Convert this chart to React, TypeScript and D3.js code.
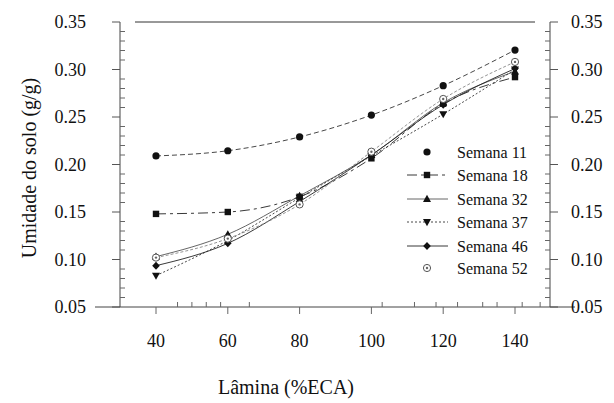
import React from "react";
import * as d3 from "d3";

const laminas = [40, 60, 80, 100, 120, 140];
const xTicks = [40, 60, 80, 100, 120, 140];
const yTicks = [0.05, 0.1, 0.15, 0.2, 0.25, 0.3, 0.35];

const semana11 = [0.209, 0.2145, 0.229, 0.252, 0.283, 0.3205];
const semana18 = [0.148, 0.15, 0.166, 0.2065, 0.264, 0.292];
const semana32 = [0.103, 0.1265, 0.167, 0.21, 0.265, 0.298];
const semana37 = [0.083, 0.12, 0.165, 0.209, 0.253, 0.3];
const semana46 = [0.0935, 0.117, 0.161, 0.21, 0.263, 0.301];
const semana52 = [0.102, 0.122, 0.158, 0.2135, 0.269, 0.308];

const seriesNames = ["Semana 11", "Semana 18", "Semana 32", "Semana 37", "Semana 46", "Semana 52"];
const seriesValues = [semana11, semana18, semana32, semana37, semana46, semana52];

const styles = [
  { stroke: "#333", dash: "5,3", marker: "circle", legendLine: false },
  { stroke: "#222", dash: "10,4,3,4", marker: "square", legendLine: true },
  { stroke: "#555", dash: "", marker: "triUp", legendLine: true },
  { stroke: "#333", dash: "2,2", marker: "triDown", legendLine: true },
  { stroke: "#222", dash: "", marker: "diamond", legendLine: true },
  { stroke: "#888", dash: "3,2", marker: "ring", legendLine: false },
];

const FONT = "'Liberation Serif', 'DejaVu Serif', 'Times New Roman', Times, serif";

function Marker({ type, cx, cy }: { type: string; cx: number; cy: number }) {
  switch (type) {
    case "circle":
      return <circle cx={cx} cy={cy} r={3.6} fill="#111" />;
    case "square":
      return <rect x={cx - 3.2} y={cy - 3.2} width={6.4} height={6.4} fill="#111" />;
    case "triUp":
      return <path d={`M${cx},${cy - 4.2}L${cx + 4},${cy + 3}L${cx - 4},${cy + 3}Z`} fill="#111" />;
    case "triDown":
      return <path d={`M${cx},${cy + 4.2}L${cx + 4},${cy - 3}L${cx - 4},${cy - 3}Z`} fill="#111" />;
    case "diamond":
      return <path d={`M${cx},${cy - 4}L${cx + 3.8},${cy}L${cx},${cy + 4}L${cx - 3.8},${cy}Z`} fill="#111" />;
    case "ring":
      return (
        <g>
          <circle cx={cx} cy={cy} r={3.6} fill="white" stroke="#555" strokeWidth={1} />
          <circle cx={cx} cy={cy} r={1.2} fill="#666" />
        </g>
      );
    default:
      return null;
  }
}

export default function App() {
  const W = 614, H = 403;
  const x = d3.scaleLinear().domain([40, 140]).range([156, 515]);
  const y = d3.scaleLinear().domain([0.05, 0.35]).range([307, 22]);
  const left = 120, right = 550, top = 22, bottom = 307;

  const line = d3
    .line<number>()
    .x((_, i) => x(laminas[i]))
    .y((v) => y(v))
    .curve(d3.curveMonotoneX);

  const minorY = d3.range(0.05, 0.3501, 0.01).filter((v) => Math.abs(Math.round(v * 20) - v * 20) > 0.01);
  const minorX = [46, 50, 54, 58, 66, 103, 112, 118, 124, 131, 135, 142, 147];

  const legendX = 427, legendTextX = 457;
  const legendY = [152, 175, 199, 222, 246, 268];
  const txt = { fontFamily: FONT };

  return (
    <svg width={W} height={H} style={{ position: "absolute", left: 0, top: 0, background: "white", fontFamily: FONT }}>
      <rect width={W} height={H} fill="white" />
      {/* frame */}
      <line x1={135} x2={535} y1={top} y2={top} stroke="#333" strokeWidth={1} />
      <line x1={left} x2={left} y1={top} y2={bottom} stroke="#444" strokeWidth={1} />
      <line x1={right} x2={right} y1={top} y2={bottom} stroke="#444" strokeWidth={1} />
      <line x1={95} x2={575} y1={bottom} y2={bottom} stroke="#444" strokeWidth={1} />

      {/* y ticks */}
      {yTicks.map((t) => (
        <g key={"y" + t}>
          <line x1={left - 8} x2={left} y1={y(t)} y2={y(t)} stroke="#555" strokeWidth={1} />
          <line x1={right} x2={right + 8} y1={y(t)} y2={y(t)} stroke="#555" strokeWidth={1} />
          <text style={txt} x={86} y={y(t)} dy="0.35em" textAnchor="end" fontSize={18} fill="#111">
            {t.toFixed(2)}
          </text>
          <text style={txt} x={571} y={y(t)} dy="0.35em" textAnchor="start" fontSize={18} fill="#111">
            {t.toFixed(2)}
          </text>
        </g>
      ))}
      {minorY.map((t) => (
        <g key={"my" + t}>
          <line x1={left} x2={left + 5} y1={y(t)} y2={y(t)} stroke="#666" strokeWidth={1} />
          <line x1={right - 5} x2={right} y1={y(t)} y2={y(t)} stroke="#666" strokeWidth={1} />
        </g>
      ))}

      {/* x ticks */}
      {xTicks.map((t) => (
        <g key={"x" + t}>
          <line x1={x(t)} x2={x(t)} y1={bottom} y2={bottom + 7} stroke="#666" strokeWidth={1} />
          <text style={txt} x={x(t)} y={341} dy="0.35em" textAnchor="middle" fontSize={18} fill="#111">
            {t}
          </text>
        </g>
      ))}
      {minorX.map((t) => (
        <line key={"mx" + t} x1={x(t)} x2={x(t)} y1={bottom - 5} y2={bottom} stroke="#666" strokeWidth={1} />
      ))}

      {/* axis titles */}
      <text style={txt} x={286} y={394} textAnchor="middle" fontSize={20} fill="#111">
        Lâmina (%ECA)
      </text>
      <text style={txt} transform={`translate(29,168) rotate(-90)`} textAnchor="middle" dy="0.35em" fontSize={20} fill="#111">
        Umidade do solo (g/g)
      </text>

      {/* series */}
      {seriesValues.map((vals, si) => (
        <g key={"s" + si}>
          <path d={line(vals) || ""} fill="none" stroke={styles[si].stroke} strokeWidth={0.9} strokeDasharray={styles[si].dash} />
          {vals.map((v, i) => (
            <Marker key={i} type={styles[si].marker} cx={x(laminas[i])} cy={y(v)} />
          ))}
        </g>
      ))}

      {/* legend */}
      {seriesNames.map((name, i) => (
        <g key={"l" + i}>
          {styles[i].legendLine && (
            <line x1={407} x2={448} y1={legendY[i]} y2={legendY[i]} stroke={styles[i].stroke} strokeWidth={0.9} strokeDasharray={styles[i].dash} />
          )}
          <Marker type={styles[i].marker} cx={legendX} cy={legendY[i]} />
          <text style={txt} x={legendTextX} y={legendY[i]} dy="0.35em" fontSize={16} fill="#111">
            {name}
          </text>
        </g>
      ))}
    </svg>
  );
}
